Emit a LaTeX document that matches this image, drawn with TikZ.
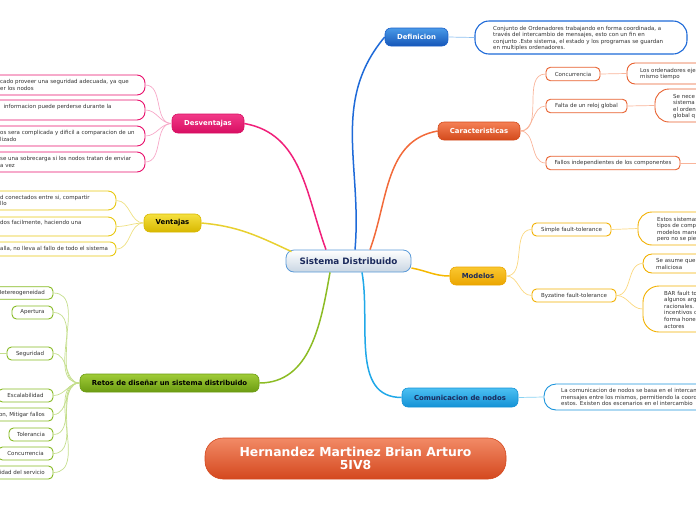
\documentclass[tikz,border=0pt]{standalone}
\usepackage{fontspec}
\setmainfont{DejaVu Sans}
\definecolor{txt}{HTML}{333333}
\definecolor{cenB}{HTML}{5A9AD8}\definecolor{cenBot}{HTML}{C9D6E3}\definecolor{navy}{HTML}{1B2A5C}
\definecolor{defT}{HTML}{4A9AE8}\definecolor{defBot}{HTML}{1556B8}\definecolor{defB}{HTML}{1A5FC8}\definecolor{defL}{HTML}{1E6AD8}\definecolor{defTw}{HTML}{8EC0F0}
\definecolor{carT}{HTML}{F58055}\definecolor{carBot}{HTML}{D34A1C}\definecolor{carB}{HTML}{E8602E}\definecolor{carL}{HTML}{F26A3A}\definecolor{carTw}{HTML}{F9B49A}
\definecolor{pinT}{HTML}{F23A88}\definecolor{pinBot}{HTML}{D80E62}\definecolor{pinB}{HTML}{E8106C}\definecolor{pinL}{HTML}{F0207A}\definecolor{pinTw}{HTML}{F7A8C8}
\definecolor{venT}{HTML}{F5E040}\definecolor{venBot}{HTML}{D8B800}\definecolor{venB}{HTML}{E8C810}\definecolor{venL}{HTML}{E8D030}\definecolor{venTw}{HTML}{EEE080}
\definecolor{modT}{HTML}{FAC830}\definecolor{modBot}{HTML}{EBA500}\definecolor{modB}{HTML}{F2B000}\definecolor{modL}{HTML}{F5B800}\definecolor{modTw}{HTML}{FBD880}
\definecolor{comT}{HTML}{4CC0F2}\definecolor{comBot}{HTML}{1492D6}\definecolor{comB}{HTML}{1A94DC}\definecolor{comL}{HTML}{20A8E8}\definecolor{comTw}{HTML}{88D2F2}
\definecolor{retT}{HTML}{A0CC38}\definecolor{retBot}{HTML}{6C9C12}\definecolor{retB}{HTML}{86BA22}\definecolor{retL}{HTML}{8CBC24}\definecolor{retTw}{HTML}{C4DE8C}
\definecolor{titT}{HTML}{F28A66}\definecolor{titBot}{HTML}{D4481E}
\tikzset{
  mainnode/.style={rounded corners=6pt, minimum height=18pt, inner sep=0pt, line width=0.6pt, font=\fontsize{6.9}{8}\selectfont\bfseries},
  subbox/.style={draw=#1, line width=0.9pt, fill=white, rounded corners=4.5pt, inner sep=0pt, minimum height=13.5pt, font=\fontsize{5.5}{6.6}\selectfont, text=txt},
  leafbox/.style={draw=#1, line width=0.9pt, fill=white, rounded corners=8pt, inner sep=0pt},
  leaftext/.style={inner sep=0pt, align=left, font=\fontsize{5.5}{6.6}\selectfont, text=txt, anchor=west},
  branch/.style={line width=1.5pt, draw=#1},
  twig/.style={line width=0.7pt, draw=#1},
}
\begin{document}
\begin{tikzpicture}[x=1pt,y=1pt]
\useasboundingbox (0,0) rectangle (696,-520);
\clip (0,0) rectangle (696,-520);
% ---------- nodes ----------
\node[mainnode, draw=cenB, line width=0.8pt, top color=white, bottom color=cenBot, minimum width=125pt, minimum height=22pt, rounded corners=8pt, font=\fontsize{8.8}{10}\selectfont\bfseries, text=navy] (C) at (348.5,-261) {Sistema Distribuido};

% Definicion
\node[mainnode, draw=defB, top color=defT, bottom color=defBot, text=white, minimum width=63pt] (D) at (416.5,-37) {Definicion};
\node[leafbox=defL, line width=1.1pt, rounded corners=14pt, minimum width=212pt, minimum height=33pt] (DL) at (581,-37.5) {};
\node[leaftext] (DLt) at (493,-38.4) {Conjunto de Ordenadores trabajando en forma coordinada, a\\través del intercambio de mensajes, esto con un fin en\\conjunto .Este sistema, el estado y los programas se guardan\\en multiples ordenadores.};

% Caracteristicas
\node[mainnode, draw=carBot, top color=carT, bottom color=carBot, text=white, minimum width=82pt] (K) at (479,-131) {Caracteristicas};
\node[subbox=carB, minimum width=54pt] (K1) at (573,-74) {Concurrencia};
\node[leafbox=carB, minimum width=93pt, minimum height=21pt] (K1L) at (673.5,-73.5) {};
\node[leaftext] (K1Lt) at (640,-73.8) {Los ordenadores eje\\mismo tiempo};
\node[subbox=carB, minimum width=81pt] (K2) at (586.5,-106) {Falta de un reloj global};
\node[leafbox=carB, rounded corners=14pt, minimum width=85pt, minimum height=33pt] (K2L) at (697.5,-105.5) {};
\node[leaftext] (K2Lt) at (673,-106.5) {Se nece\\sistema\\el orden\\global q};
\node[subbox=carB, minimum width=134pt] (K3) at (613,-163) {Fallos independientes de los componentes};
\coordinate (K3e) at (720,-163);

% Modelos
\node[mainnode, draw=modBot, top color=modT, bottom color=modBot, text=navy, minimum width=56pt] (M) at (478,-276) {Modelos};
\node[subbox=modB, minimum width=79pt, minimum height=13pt] (M1) at (571.5,-229.5) {Simple fault-tolerance};
\node[leafbox=modB, rounded corners=14pt, minimum width=102pt, minimum height=33pt] (M1L) at (689,-228.5) {};
\node[leaftext] (M1Lt) at (657,-229.5) {Estos sistemas\\tipos de comp\\modelos mane\\pero no se pie};
\node[subbox=modB, minimum width=84pt, minimum height=13pt] (M2) at (574,-295.5) {Byzatine fault-tolerance};
\node[leafbox=modB, rounded corners=9pt, minimum width=97pt, minimum height=19pt] (M2L) at (691.5,-263.5) {};
\node[leaftext] (M2Lt) at (656,-263.8) {Se asume que\\maliciosa};
\node[leafbox=modB, rounded corners=16pt, minimum width=97pt, minimum height=46pt] (M3L) at (691.5,-309) {};
\node[leaftext] (M3Lt) at (664,-309.5) {BAR fault to\\algunos arg\\racionales. I\\incentivos q\\forma hones\\actores};

% Comunicacion
\node[mainnode, draw=comBot, top color=comT, bottom color=comBot, text=navy, minimum width=116pt, minimum height=19pt] (N) at (460,-397.5) {Comunicacion de nodos};
\node[leafbox=comB, rounded corners=12pt, minimum width=196pt, minimum height=26pt] (NL) at (642,-397) {};
\node[leaftext] (NLt) at (561,-397.3) {La comunicacion de nodos se basa en el intercam\\mensajes entre los mismos, permitiendo la coord\\estos. Existen dos escenarios en el intercambio};

% Desventajas
\node[mainnode, draw=pinBot, top color=pinT, bottom color=pinBot, text=white, minimum width=72pt, minimum height=19pt] (S) at (208,-123.5) {Desventajas};
\node[leafbox=pinB, minimum width=175pt, minimum height=20pt] (S1) at (57.5,-85) {};
\node[leaftext] (S1t) at (0,-85) {cado proveer una seguridad adecuada, ya que\\er los nodos};
\node[leafbox=pinB, minimum width=175pt, minimum height=20pt] (S2) at (57.5,-110) {};
\node[leaftext] (S2t) at (3.5,-106.7) {informacion puede perderse durante la};
\node[leafbox=pinB, minimum width=175pt, minimum height=20pt] (S3) at (57.5,-136) {};
\node[leaftext] (S3t) at (0,-136) {os sera complicada y dificil a comparacion de un\\lizado};
\node[leafbox=pinB, minimum width=175pt, minimum height=20pt] (S4) at (57.5,-162) {};
\node[leaftext] (S4t) at (0,-162) {se una sobrecarga si los nodos tratan de enviar\\a vez};

% Ventajas
\node[mainnode, draw=venBot, top color=venT, bottom color=venBot, text=black, minimum width=57pt] (V) at (172.5,-223) {Ventajas};
\node[leafbox=venB, minimum width=146pt, minimum height=19pt] (V1) at (43,-200.5) {};
\node[leaftext] (V1t) at (0,-200.5) {d conectados entre si, compartir\\llo};
\node[leafbox=venB, minimum width=146pt, minimum height=19pt] (V2) at (43,-226.5) {};
\node[leaftext] (V2t) at (0,-223) {dos facilmente, haciendo una};
\node[leafbox=venB, rounded corners=6pt, minimum width=146pt, minimum height=14pt] (V3) at (43,-249) {};
\node[leaftext] (V3t) at (0,-249) {alla, no lleva al fallo de todo el sistema};

% Retos
\node[mainnode, draw=retBot, top color=retT, bottom color=retBot, text=black, minimum width=179pt] (R) at (169.5,-383) {Retos de diseñar un sistema distribuido};
\node[subbox=retB, minimum width=83pt, minimum height=12.5pt] (R1) at (11.5,-293) {};
\node[leaftext, anchor=east] (R1t) at (45,-293) {Hetereogeneidad};
\node[subbox=retB, minimum width=41pt, minimum height=13pt] (R2) at (32.5,-312.5) {Apertura};
\node[subbox=retB, minimum width=46pt, minimum height=13pt] (R3) at (30,-353.5) {Seguridad};
\coordinate (R3w) at (-20,-353.5);
\node[subbox=retB, minimum width=55pt, minimum height=13pt] (R4) at (25.5,-395.5) {Escalabilidad};
\node[subbox=retB, minimum width=83pt, minimum height=13pt] (R5) at (11.5,-414.5) {};
\node[leaftext, anchor=east] (R5t) at (45,-414.5) {on, Mitigar fallos};
\node[subbox=retB, minimum width=44pt, minimum height=13pt] (R6) at (31,-434.5) {Tolerancia};
\node[subbox=retB, minimum width=55pt, minimum height=13pt] (R7) at (25.5,-453.5) {Concurrencia};
\node[subbox=retB, minimum width=83pt, minimum height=13pt] (R8) at (11.5,-472.5) {};
\node[leaftext, anchor=east] (R8t) at (45,-472.5) {idad del servicio};

% Title
\node[mainnode, draw=titBot, top color=titT, bottom color=titBot, text=white, minimum width=301pt, minimum height=41pt, rounded corners=18pt, align=center, font=\fontsize{12.4}{13.5}\selectfont\bfseries] (T) at (355.5,-458.5) {Hernandez Martinez Brian Arturo\\5IV8};

% ---------- connectors ----------
\draw[branch=defL] ([xshift=6.5pt]C.north) to[out=85,in=-130] (D.west);
\draw[branch=carL] ([xshift=21.5pt]C.north) to[out=70,in=-170] (K.west);
\draw[branch=pinL] ([xshift=-22.5pt]C.north) to[out=110,in=-10] (S.east);
\draw[branch=venL] ([xshift=-57pt,yshift=-2pt]C.north) to[out=155,in=-5] (V.east);
\draw[branch=modL] ([yshift=-7pt]C.east) to[out=-10,in=180] (M.west);
\draw[branch=comL] ([xshift=13.5pt]C.south) to[out=-80,in=180] (N.west);
\draw[branch=retL] ([xshift=-18.5pt]C.south) to[out=-100,in=0] (R.east);

\draw[twig=defTw] (D.east) -- (DL.west);
\foreach \t in {K1,K2,K3} \draw[twig=carTw] (K.east) to[out=0,in=180] (\t.west);
\draw[twig=carTw] (K1.east) -- (K1L.west);
\draw[twig=carTw] (K2.east) -- (K2L.west);
\draw[twig=carTw] (K3.east) -- (K3e);
\foreach \t in {M1,M2} \draw[twig=modTw] (M.east) to[out=0,in=180] (\t.west);
\draw[twig=modTw] (M1.east) -- (M1L.west);
\foreach \t in {M2L,M3L} \draw[twig=modTw] (M2.east) to[out=0,in=180] (\t.west);
\draw[twig=comTw] (N.east) -- (NL.west);
\foreach \t in {S1,S2,S3,S4} \draw[twig=pinTw] (S.west) to[out=180,in=0] (\t.east);
\foreach \t in {V1,V2,V3} \draw[twig=venTw] (V.west) to[out=180,in=0] (\t.east);
\foreach \t in {R1,R2,R3,R4,R5,R6,R7,R8} \draw[twig=retTw] (R.west) to[out=180,in=0] (\t.east);
\draw[twig=retTw] (R3.west) -- (R3w);
\end{tikzpicture}
\end{document}
